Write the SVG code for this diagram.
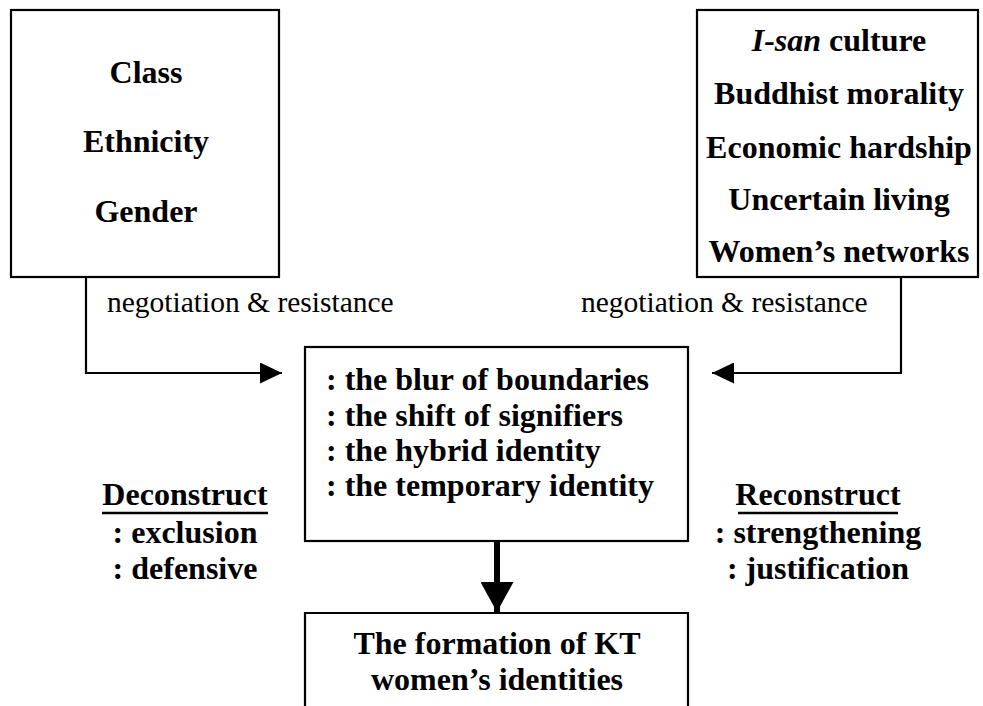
<svg xmlns="http://www.w3.org/2000/svg" width="983" height="706" viewBox="0 0 983 706">
<defs>
<style>
.box{fill:none;stroke:#000;stroke-width:2.2}
.ln{fill:none;stroke:#000;stroke-width:2.2}
.ul{stroke:#000;stroke-width:2.4}
.b{font-family:"Liberation Serif","Times New Roman",serif;font-weight:bold;font-size:32px;fill:#000}
.r{font-family:"Liberation Serif","Times New Roman",serif;font-size:29.5px;fill:#000}
.c{text-anchor:middle}
</style>
<marker id="ah" viewBox="0 0 22 21" refX="22" refY="10.5" markerWidth="22" markerHeight="21" markerUnits="userSpaceOnUse" orient="auto"><path d="M0,0 L22,10.5 L0,21 Z" fill="#000"/></marker>
<marker id="ah2" viewBox="0 0 30 33" refX="30" refY="16.5" markerWidth="30" markerHeight="33" markerUnits="userSpaceOnUse" orient="auto"><path d="M0,0 L30,16.5 L0,33 Z" fill="#000"/></marker>
</defs>
<rect width="983" height="706" fill="#fff"/>
<g id="factors">
<rect class="box" x="11" y="10" width="268" height="267"/>
<text class="b c" x="146" y="83">Class</text>
<text class="b c" x="146" y="152">Ethnicity</text>
<text class="b c" x="146" y="222">Gender</text>
</g>
<g id="context">
<rect class="box" x="697" y="10" width="281" height="267"/>
<text class="b c" x="839" y="51"><tspan font-style="italic">I-san</tspan> culture</text>
<text class="b c" x="839" y="104">Buddhist morality</text>
<text class="b c" x="839" y="158">Economic hardship</text>
<text class="b c" x="839" y="210">Uncertain living</text>
<text class="b c" x="839" y="262">Women’s networks</text>
</g>
<g id="process">
<rect class="box" x="305" y="347" width="383" height="194"/>
<text class="b" x="326" y="390">: the blur of boundaries</text>
<text class="b" x="326" y="426">: the shift of signifiers</text>
<text class="b" x="326" y="461">: the hybrid identity</text>
<text class="b" x="326" y="496">: the temporary identity</text>
</g>
<g id="formation">
<path class="box" d="M305,710 V613 H688 V710"/>
<text class="b c" x="497" y="654">The formation of KT</text>
<text class="b c" x="497" y="690">women’s identities</text>
</g>
<g id="deconstruct">
<text class="b c" x="185" y="505">Deconstruct</text>
<line class="ul" x1="102" y1="513" x2="268" y2="513"/>
<text class="b c" x="185" y="543">: exclusion</text>
<text class="b c" x="185" y="579">: defensive</text>
</g>
<g id="reconstruct">
<text class="b c" x="818" y="505">Reconstruct</text>
<line class="ul" x1="738" y1="513" x2="898" y2="513"/>
<text class="b c" x="818" y="543">: strengthening</text>
<text class="b c" x="818" y="579">: justification</text>
</g>
<g id="connectors">
<path class="ln" d="M86,277 V373 H282" marker-end="url(#ah)"/>
<path class="ln" d="M901,277 V373 H712" marker-end="url(#ah)"/>
<line x1="497" y1="541" x2="497" y2="612" stroke="#000" stroke-width="6" marker-end="url(#ah2)"/>
</g>
<g id="labels">
<text class="r" x="107" y="312">negotiation &amp; resistance</text>
<text class="r" x="581" y="312">negotiation &amp; resistance</text>
</g>
</svg>
